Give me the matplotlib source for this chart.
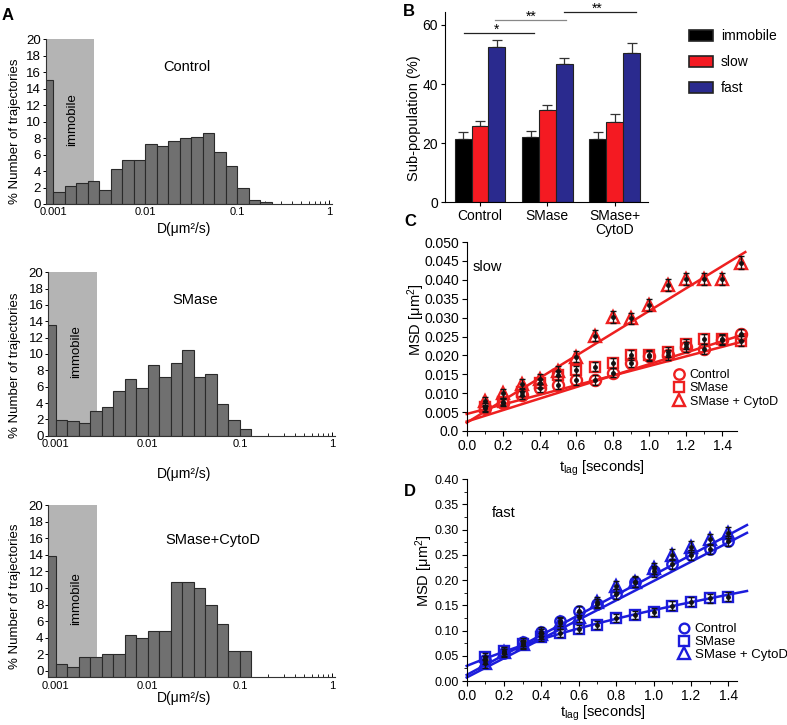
import numpy as np
import matplotlib
matplotlib.use('Agg')
import matplotlib.pyplot as plt
from matplotlib.patches import Patch
from matplotlib.lines import Line2D
from matplotlib.ticker import MultipleLocator, FixedLocator, LogLocator, NullFormatter

plt.rcParams['font.family'] = ['Liberation Sans', 'DejaVu Sans']
plt.rcParams['mathtext.default'] = 'regular'

# ---------------- data ----------------
# Panel A: % of trajectories per log10(D) bin (bin width 1/8 decade, first bin ends at D=0.001)
hist_first_edge_log10 = -3.125
hist_bin_log10 = 0.125
control_pct = [15.0, 1.4, 2.2, 2.5, 2.8, 1.7, 4.3, 5.4, 5.4, 7.3, 7.0, 7.6, 8.0, 8.1, 8.6, 6.3, 4.6, 2.0, 0.5, 0.2]
smase_pct = [13.5, 1.9, 1.75, 1.5, 3.05, 3.5, 5.5, 6.9, 5.8, 8.7, 7.2, 8.9, 10.45, 7.2, 7.55, 3.9, 1.9, 0.8]
cytod_pct = [13.9, 0.8, 0.4, 1.6, 1.6, 2.0, 2.0, 4.3, 4.0, 4.8, 4.8, 10.7, 10.7, 10.0, 7.9, 5.6, 2.4, 2.4]
immobile_limit = 0.0028
hist_titles = ['Control', 'SMase', 'SMase+CytoD']
hist_xticks = [0.001, 0.01, 0.1, 1]
hist_xticklabels = ['0.001', '0.01', '0.1', '1']

# Panel B: sub-population fractions (%)
groups = ['Control', 'SMase', 'SMase+\nCytoD']
subpops = ['immobile', 'slow', 'fast']
immobile_mean = [21.4, 22.0, 21.3]
immobile_err = [2.4, 2.1, 2.6]
slow_mean = [25.7, 31.2, 27.1]
slow_err = [1.7, 1.7, 2.7]
fast_mean = [52.4, 46.9, 50.6]
fast_err = [2.4, 1.8, 3.4]

# Panel C: slow MSD (um^2)
t_slow = [0.1, 0.2, 0.3, 0.4, 0.5, 0.6, 0.7, 0.8, 0.9, 1.0, 1.1, 1.2, 1.3, 1.4, 1.5]
slow_ctrl = [0.0060, 0.0075, 0.0095, 0.0113, 0.0122, 0.0135, 0.0135, 0.0154, 0.0181, 0.0198, 0.0201, 0.0223, 0.0216, 0.0241, 0.0256]
slow_ctrl_err = [0.0010, 0.0010, 0.0011, 0.0011, 0.0012, 0.0012, 0.0012, 0.0012, 0.0013, 0.0013, 0.0013, 0.0013, 0.0013, 0.0014, 0.0014]
slow_smase = [0.0064, 0.0078, 0.0104, 0.0126, 0.0148, 0.0161, 0.0170, 0.0179, 0.0201, 0.0201, 0.0210, 0.0230, 0.0243, 0.0243, 0.0238]
slow_smase_err = [0.0010, 0.0010, 0.0011, 0.0011, 0.0012, 0.0012, 0.0012, 0.0013, 0.0013, 0.0013, 0.0013, 0.0013, 0.0014, 0.0014, 0.0014]
slow_cytod = [0.0079, 0.0100, 0.0124, 0.0137, 0.0159, 0.0197, 0.0252, 0.0302, 0.0298, 0.0333, 0.0386, 0.0402, 0.0402, 0.0402, 0.0445]
slow_cytod_err = [0.0012, 0.0012, 0.0013, 0.0013, 0.0014, 0.0014, 0.0015, 0.0015, 0.0015, 0.0016, 0.0016, 0.0016, 0.0016, 0.0017, 0.0017]
slow_fit_intercept = [0.0045, 0.0025, 0.0022]
slow_fit_slope = [0.0127, 0.0152, 0.0296]

# Panel D: fast MSD (um^2)
t_fast = [0.1, 0.2, 0.3, 0.4, 0.5, 0.6, 0.7, 0.8, 0.9, 1.0, 1.1, 1.2, 1.3, 1.4]
fast_ctrl = [0.042, 0.056, 0.077, 0.098, 0.118, 0.139, 0.153, 0.172, 0.196, 0.217, 0.232, 0.250, 0.261, 0.278]
fast_ctrl_err = [0.008, 0.008, 0.008, 0.009, 0.009, 0.009, 0.009, 0.010, 0.010, 0.010, 0.010, 0.010, 0.010, 0.010]
fast_smase = [0.048, 0.060, 0.073, 0.088, 0.096, 0.103, 0.111, 0.124, 0.131, 0.137, 0.149, 0.157, 0.164, 0.167]
fast_smase_err = [0.007, 0.007, 0.007, 0.008, 0.008, 0.008, 0.008, 0.008, 0.008, 0.008, 0.009, 0.009, 0.009, 0.009]
fast_cytod = [0.035, 0.058, 0.073, 0.093, 0.114, 0.127, 0.157, 0.188, 0.197, 0.223, 0.250, 0.266, 0.281, 0.294]
fast_cytod_err = [0.009, 0.009, 0.009, 0.010, 0.010, 0.010, 0.010, 0.011, 0.011, 0.011, 0.011, 0.011, 0.011, 0.011]
fast_fit_intercept = [0.007, 0.012]
fast_fit_slope = [0.191, 0.198]
fast_smase_fit_t = [0.0, 0.25, 0.5, 0.75, 1.0, 1.25, 1.5]
fast_smase_fit_v = [0.030, 0.064, 0.0945, 0.119, 0.139, 0.161, 0.178]

# ---------------- figure ----------------
W, H = 787, 725
fig = plt.figure(figsize=(W / 100, H / 100), dpi=100)


def px_axes(l, t, r, b):
    return fig.add_axes([l / W, 1 - b / H, (r - l) / W, (b - t) / H])


def ftext(x, y, s, **kw):
    kw.setdefault('ha', 'center')
    kw.setdefault('va', 'center')
    return fig.text(x / W, 1 - y / H, s, **kw)


# ---------------- Panel A ----------------
hist_boxes = [(45.7, 39.3, 332, 204), (48.3, 272.3, 335, 435.7), (48.3, 505.3, 335, 677.3)]
hist_data = [control_pct, smase_pct, cytod_pct]
hist_ylow = [0, 0, -0.8]
title_pos = [(187, 67), (195, 300), (213, 540)]
immob_pos = [(72, 120), (76, 352), (76, 599)]
xlab_y = [229, 474, 698]
ylab_y = [131, 365, 596]
xlo, xhi = 10 ** -3.08, 10 ** 0.032

for box, vals, ylow, tp, ip, xy, yy, title in zip(hist_boxes, hist_data, hist_ylow, title_pos,
                                                  immob_pos, xlab_y, ylab_y, hist_titles):
    ax = px_axes(*box)
    ax.set_xscale('log')
    ax.set_xlim(xlo, xhi)
    ax.set_ylim(ylow, 20)
    ax.axvspan(xlo, immobile_limit, color='#b4b4b4', zorder=0, lw=0)
    n = len(vals)
    edges = 10 ** (hist_first_edge_log10 + hist_bin_log10 * np.arange(n + 1))
    ax.bar(edges[:-1], np.array(vals) - ylow, width=np.diff(edges), bottom=ylow, align='edge',
           color='#707070', edgecolor='#2a2a2a', linewidth=0.8, zorder=2)
    for s in ['top', 'right']:
        ax.spines[s].set_visible(False)
    for s in ['left', 'bottom']:
        ax.spines[s].set_linewidth(0.8)
        ax.spines[s].set_color('#333333')
    ax.set_yticks(np.arange(0, 21, 2))
    ax.xaxis.set_major_locator(FixedLocator(hist_xticks))
    ax.set_xticklabels(hist_xticklabels)
    ax.xaxis.set_minor_locator(LogLocator(base=10, subs=np.arange(2, 10)))
    ax.xaxis.set_minor_formatter(NullFormatter())
    ax.tick_params(axis='x', which='major', direction='in', length=3, width=0.7, labelsize=8, pad=2.5)
    ax.tick_params(axis='x', which='minor', direction='in', length=2, width=0.6)
    ax.tick_params(axis='y', direction='out', length=2.5, width=0.7, labelsize=9.5, pad=1)
    ftext(tp[0], tp[1], title, fontsize=10.5)
    ftext(ip[0], ip[1], 'immobile', rotation=90, fontsize=9.5)
    ftext(184, xy, 'D(μm²/s)', fontsize=10)
    ftext(15, yy, '% Number of trajectories', rotation=90, fontsize=9.5)

# ---------------- Panel B ----------------
axb = px_axes(445, 11.7, 647.7, 202.3)
colors_b = ['#000000', '#f41a22', '#2a2a8e']
means = [immobile_mean, slow_mean, fast_mean]
errs = [immobile_err, slow_err, fast_err]
xg = np.arange(len(groups))
bw = 0.25
for i, (m, e, c, lab) in enumerate(zip(means, errs, colors_b, subpops)):
    xs = xg + (i - 1) * bw
    axb.bar(xs, m, width=bw, color=c, edgecolor='#222222', linewidth=0.8, label=lab, zorder=2)
    axb.errorbar(xs, m, yerr=[np.zeros(len(e)), e], fmt='none', ecolor='#333333',
                 elinewidth=0.9, capsize=3.5, capthick=0.9, zorder=1)
axb.set_xlim(-0.52, 2.49)
axb.set_ylim(0, 64.5)
axb.set_yticks([0, 20, 40, 60])
axb.set_xticks(xg)
axb.set_xticklabels(groups)
for s in ['top', 'right']:
    axb.spines[s].set_visible(False)
axb.tick_params(axis='y', direction='out', length=3, labelsize=10, pad=2)
axb.tick_params(axis='x', direction='out', length=3, labelsize=10, pad=2)
for lab in axb.get_xticklabels():
    lab.set_verticalalignment('top')
    lab.set_linespacing(1.0)
ftext(414, 118, 'Sub-population (%)', rotation=90, fontsize=10.5)
# significance brackets
sig = [(-0.24, 0.80, 57.4, 0.25, '*', '#222222'), (0.22, 1.27, 61.8, 0.76, '**', '#888888'),
       (1.25, 2.31, 64.3, 1.74, '**', '#222222')]
for x0, x1, yv, xt, st, col in sig:
    axb.plot([x0, x1], [yv, yv], color=col, lw=0.9, clip_on=False)
    axb.text(xt, yv - 0.3, st, ha='center', va='baseline', fontsize=10, clip_on=False)
handles_b = [Patch(facecolor=c, edgecolor='#222222', linewidth=1.2) for c in colors_b]
fig.legend(handles_b, subpops, loc='upper left', bbox_to_anchor=(689 / W, 1 - 29.5 / H),
           frameon=False, fontsize=10, handlelength=1.75, handleheight=0.9,
           handletextpad=0.55, labelspacing=0.85, borderpad=0, borderaxespad=0)


# ---------------- Panels C & D helpers ----------------
def msd_series(ax, t, v, e, marker, color, ms):
    ax.plot(t, v, ls='none', marker=marker, mfc='none', mec=color, mew=1.7, ms=ms,
            clip_on=False, zorder=3)
    ax.errorbar(t, v, yerr=e, fmt='o', ms=2.5, color='#111111', ecolor='#111111',
                elinewidth=1.0, capsize=2.5, capthick=1.0, clip_on=False, zorder=4)


def style_msd(ax, lsize):
    for s in ['top', 'right']:
        ax.spines[s].set_visible(False)
    ax.tick_params(which='major', direction='out', length=3.5, width=0.8, labelsize=lsize, pad=2)
    ax.tick_params(which='minor', direction='out', length=2, width=0.6)


# ---------------- Panel C ----------------
red = '#ee2020'
axc = px_axes(466.7, 242, 736.7, 431)
msd_series(axc, t_slow, slow_ctrl, slow_ctrl_err, 'o', red, 8)
msd_series(axc, t_slow, slow_smase, slow_smase_err, 's', red, 7.5)
msd_series(axc, t_slow, slow_cytod, slow_cytod_err, '^', red, 8.5)
tl = np.array([0.0, 1.525])
for b0, b1 in zip(slow_fit_intercept, slow_fit_slope):
    axc.plot(tl, b0 + b1 * tl, color=red, lw=1.8, clip_on=False, zorder=2)
axc.set_xlim(0, 1.478)
axc.set_ylim(0, 0.050)
axc.xaxis.set_major_locator(MultipleLocator(0.2))
axc.xaxis.set_minor_locator(MultipleLocator(0.1))
axc.set_yticks(np.arange(0, 0.0501, 0.005))
axc.set_yticklabels(['0.0'] + ['%.3f' % v for v in np.arange(0.005, 0.0501, 0.005)])
axc.xaxis.set_major_formatter(plt.FuncFormatter(lambda v, p: '%.1f' % v))
style_msd(axc, 10)
ftext(416, 320, 'MSD [μm$^2$]', rotation=90, fontsize=10.5)
ftext(602, 468, '$t_{lag}$ [seconds]', fontsize=10.5)
ftext(487, 267, 'slow', fontsize=10.5)
hc = [Line2D([], [], ls='none', marker=m, mfc='none', mec=red, mew=1.7, ms=s)
      for m, s in zip(['o', 's', '^'], [7.5, 7, 8.5])]
fig.legend(hc, ['Control', 'SMase', 'SMase + CytoD'], loc='upper left',
           bbox_to_anchor=(673 / W, 1 - 369 / H), frameon=False, fontsize=9,
           handlelength=1.0, handletextpad=0.35, labelspacing=0.1, borderpad=0, borderaxespad=0)

# ---------------- Panel D ----------------
blue = '#1c1cdc'
axd = px_axes(466.7, 479.1, 736.7, 681)
msd_series(axd, t_fast, fast_ctrl, fast_ctrl_err, 'o', blue, 7.5)
msd_series(axd, t_fast, fast_smase, fast_smase_err, 's', blue, 7)
msd_series(axd, t_fast, fast_cytod, fast_cytod_err, '^', blue, 8)
tl = np.array([0.0, 1.5])
for b0, b1 in zip(fast_fit_intercept, fast_fit_slope):
    axd.plot(tl, b0 + b1 * tl, color=blue, lw=1.8, clip_on=False, zorder=2)
pc = np.polyfit(fast_smase_fit_t, fast_smase_fit_v, 3)
tt = np.linspace(0, 1.5, 100)
axd.plot(tt, np.polyval(pc, tt), color=blue, lw=1.8, clip_on=False, zorder=2)
axd.set_xlim(0, 1.445)
axd.set_ylim(0, 0.40)
axd.xaxis.set_major_locator(MultipleLocator(0.2))
axd.xaxis.set_minor_locator(MultipleLocator(0.1))
axd.yaxis.set_major_locator(MultipleLocator(0.05))
axd.yaxis.set_minor_locator(MultipleLocator(0.025))
axd.xaxis.set_major_formatter(plt.FuncFormatter(lambda v, p: '%.1f' % v))
axd.yaxis.set_major_formatter(plt.FuncFormatter(lambda v, p: '%.2f' % v))
style_msd(axd, 9)
axd.tick_params(axis='x', labelsize=10)
ftext(424, 571, 'MSD [μm$^2$]', rotation=90, fontsize=10.5)
ftext(603, 713, '$t_{lag}$ [seconds]', fontsize=10.5)
ftext(504, 513, 'fast', fontsize=10.5)
hd = [Line2D([], [], ls='none', marker=m, mfc='none', mec=blue, mew=1.7, ms=s)
      for m, s in zip(['o', 's', '^'], [7, 6.5, 8])]
fig.legend(hd, ['Control', 'SMase', 'SMase + CytoD'], loc='upper left',
           bbox_to_anchor=(677 / W, 1 - 623 / H), frameon=False, fontsize=9.5,
           handlelength=1.0, handletextpad=0.35, labelspacing=0.05, borderpad=0, borderaxespad=0)

# panel letters
for s, x, y in [('A', 8, 15), ('B', 409, 12), ('C', 410, 222), ('D', 410, 491)]:
    ftext(x, y, s, fontsize=12, fontweight='bold')

fig.savefig('out.png', dpi=100)
